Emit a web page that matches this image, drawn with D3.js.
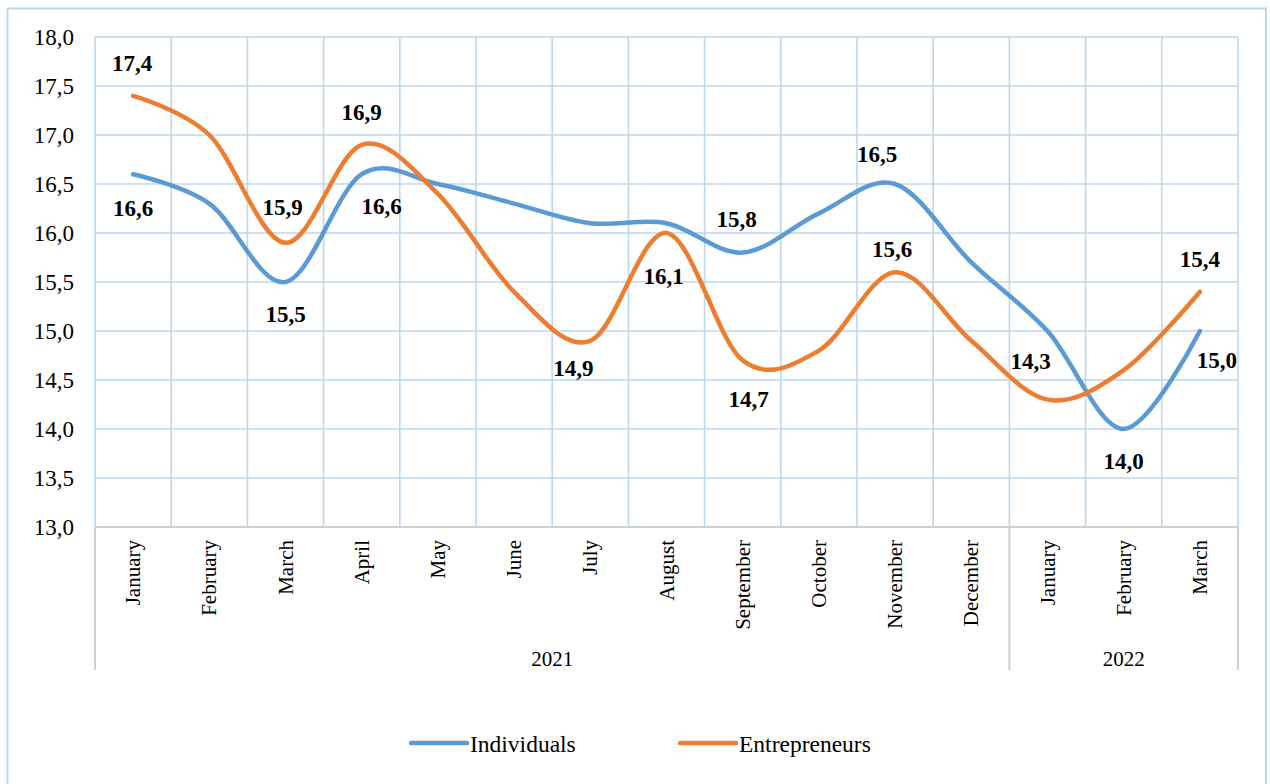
<!DOCTYPE html>
<html>
<head>
<meta charset="utf-8">
<script src="https://cdn.jsdelivr.net/npm/d3@7"></script>
<style>
  html, body { margin: 0; padding: 0; background: #fff; }
  svg text { font-family: 'Liberation Serif', 'Times New Roman', Times, serif; }
</style>
</head>
<body>
<svg id="chart" width="1270" height="784"></svg>
<script>
// ---- data ----
const months = ["January","February","March","April","May","June","July","August","September","October","November","December","January","February","March"];
const years = ["2021","2022"];
const yearSpans = [[0, 11], [12, 14]]; // index ranges of months per year
const individuals   = [16.6, 16.3, 15.5, 16.6, 16.5, 16.3, 16.1, 16.1, 15.8, 16.2, 16.5, 15.7, 15.0, 14.0, 15.0];
const entrepreneurs = [17.4, 17.0, 15.9, 16.9, 16.4, 15.4, 14.9, 16.0, 14.7, 14.8, 15.6, 14.9, 14.3, 14.6, 15.4];
const yTicks = [13.0, 13.5, 14.0, 14.5, 15.0, 15.5, 16.0, 16.5, 17.0, 17.5, 18.0];
const seriesNames = ["Individuals", "Entrepreneurs"];

// data labels shown: [series index, month index, label text]
const dataLabels = [
  [1, 0, "17,4"], [0, 0, "16,6"], [1, 2, "15,9"], [0, 2, "15,5"],
  [1, 3, "16,9"], [0, 3, "16,6"], [1, 6, "14,9"], [0, 7, "16,1"],
  [0, 8, "15,8"], [1, 8, "14,7"], [0, 10, "16,5"], [1, 10, "15,6"],
  [1, 12, "14,3"], [0, 13, "14,0"], [1, 14, "15,4"], [0, 14, "15,0"]
];
// label placement offsets (pixels, relative to the data point): dx, dy(baseline)
const labelOffsets = [
  [-1, -25], [0, 42], [-3, -28], [0, 40],
  [0, -25], [20, 40], [-17, 35], [-3, 61],
  [-6, -26], [6, 47], [-18, -22], [-3, -15],
  [-17, -31], [0, 40], [0, -25], [17, 37]
];

// ---- layout ----
const FONT = "'Liberation Serif', 'Times New Roman', Times, serif";
const colors = ["#5B9BD5", "#ED7D31"];
const plot = { left: 95, right: 1238, top: 37, bottom: 527 };
const svg = d3.select("#chart");

// outer border
svg.append("rect")
  .attr("x", 7.5).attr("y", 8.5)
  .attr("width", 1258.5).attr("height", 790)
  .attr("fill", "none").attr("stroke", "#BDD7EE").attr("stroke-width", 2);

const x = d3.scaleBand().domain(d3.range(months.length)).range([plot.left, plot.right]).padding(0);
const y = d3.scaleLinear().domain([13, 18]).range([plot.bottom, plot.top]);
const fmt = v => d3.format(".1f")(v).replace(".", ",");

// horizontal gridlines
svg.append("g").selectAll("line").data(yTicks.filter(t => t > 13)).join("line")
  .attr("x1", plot.left).attr("x2", plot.right)
  .attr("y1", d => y(d)).attr("y2", d => y(d))
  .attr("stroke", "#BDD7EE").attr("stroke-width", 1.6);

// vertical gridlines (band boundaries)
const bounds = d3.range(months.length + 1).map(i => i < months.length ? x(i) : plot.right);
svg.append("g").selectAll("line").data(bounds).join("line")
  .attr("x1", d => d).attr("x2", d => d)
  .attr("y1", plot.top).attr("y2", plot.bottom)
  .attr("stroke", "#BDD7EE").attr("stroke-width", 1.6);

// category axis line
svg.append("line")
  .attr("x1", plot.left).attr("x2", plot.right)
  .attr("y1", plot.bottom).attr("y2", plot.bottom)
  .attr("stroke", "#D0D0D0").attr("stroke-width", 2);

// group separators below the axis
const sepX = [plot.left, x(yearSpans[1][0]), plot.right];
svg.append("g").selectAll("line").data(sepX).join("line")
  .attr("x1", d => d).attr("x2", d => d)
  .attr("y1", plot.bottom).attr("y2", 670)
  .attr("stroke", "#D0D0D0").attr("stroke-width", 2);

// y tick labels
svg.append("g").selectAll("text").data(yTicks).join("text")
  .attr("x", 74).attr("y", d => y(d)).attr("dy", "0.34em")
  .attr("text-anchor", "end").attr("font-family", FONT).attr("font-size", 23).attr("fill", "#000")
  .text(d => fmt(d));

// month labels (rotated)
svg.append("g").selectAll("text").data(months).join("text")
  .attr("transform", (d, i) => `translate(${x(i) + x.bandwidth() / 2 + 7},540) rotate(-90)`)
  .attr("text-anchor", "end").attr("font-family", FONT).attr("font-size", 21).attr("fill", "#000")
  .text(d => d);

// year labels
svg.append("g").selectAll("text").data(years).join("text")
  .attr("x", (d, i) => (x(yearSpans[i][0]) + x(yearSpans[i][1]) + x.bandwidth()) / 2)
  .attr("y", 666)
  .attr("text-anchor", "middle").attr("font-family", FONT).attr("font-size", 21).attr("fill", "#000")
  .text(d => d);

// lines
const seriesData = [individuals, entrepreneurs];
const line = d3.line()
  .x((d, i) => x(i) + x.bandwidth() / 2)
  .y(d => y(d))
  .curve(d3.curveCatmullRom.alpha(0));
svg.append("g").selectAll("path").data(seriesData).join("path")
  .attr("d", d => line(d))
  .attr("fill", "none")
  .attr("stroke", (d, i) => colors[i])
  .attr("stroke-width", 4.5)
  .attr("stroke-linecap", "round")
  .attr("stroke-linejoin", "round");

// data labels
svg.append("g").selectAll("text").data(dataLabels).join("text")
  .attr("x", (d, k) => x(d[1]) + x.bandwidth() / 2 + labelOffsets[k][0])
  .attr("y", (d, k) => y(seriesData[d[0]][d[1]]) + labelOffsets[k][1])
  .attr("text-anchor", "middle").attr("font-family", FONT).attr("font-size", 23).attr("font-weight", "bold").attr("fill", "#000")
  .text(d => d[2]);

// legend
const legendItems = [{ x1: 411, x2: 467 }, { x1: 680, x2: 736 }];
const lg = svg.append("g").selectAll("g").data(seriesNames).join("g");
lg.append("line")
  .attr("x1", (d, i) => legendItems[i].x1).attr("x2", (d, i) => legendItems[i].x2)
  .attr("y1", 743).attr("y2", 743)
  .attr("stroke", (d, i) => colors[i]).attr("stroke-width", 4.5).attr("stroke-linecap", "round");
lg.append("text")
  .attr("x", (d, i) => legendItems[i].x2 + 3).attr("y", 752)
  .attr("font-family", FONT).attr("font-size", 23.5).attr("fill", "#000")
  .text(d => d);
</script>
</body>
</html>
